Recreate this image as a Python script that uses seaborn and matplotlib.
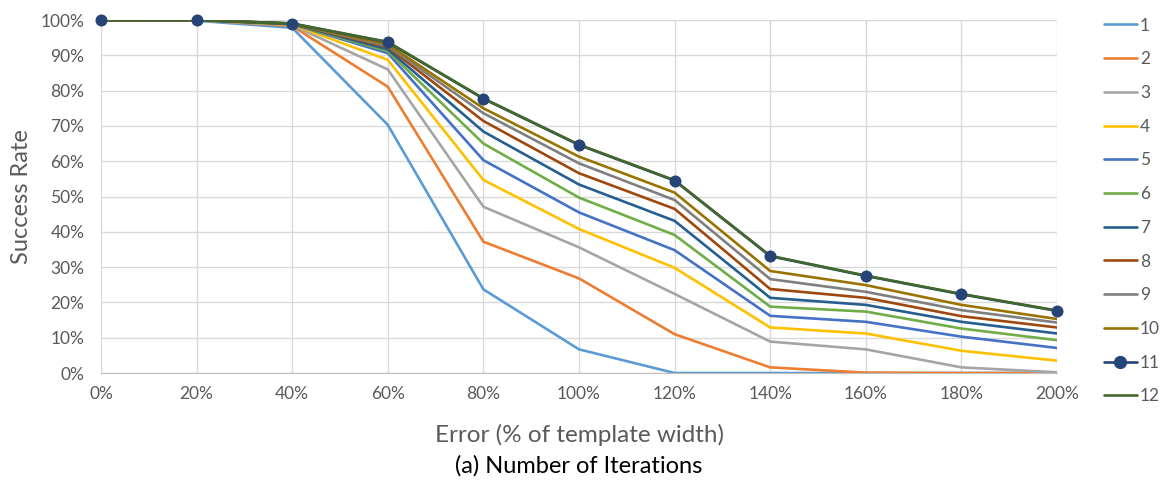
import pandas as pd
import seaborn as sns
import matplotlib.pyplot as plt
from matplotlib.lines import Line2D

# Data
errors = [0, 20, 40, 60, 80, 100, 120, 140, 160, 180, 200]
series_names = ['1', '2', '3', '4', '5', '6', '7', '8', '9', '10', '11', '12']

s1 = [100, 99.8, 97.8, 70.3, 23.7, 6.7, 0.0, 0.0, 0.0, 0.0, 0.0]
s2 = [100, 100, 98.3, 81.1, 37.2, 26.8, 11.0, 1.6, 0.1, 0.0, 0.0]
s3 = [100, 100, 98.5, 86.0, 47.1, 35.6, 22.4, 8.9, 6.7, 1.6, 0.2]
s4 = [100, 100, 98.7, 88.7, 54.7, 40.8, 29.8, 12.9, 11.2, 6.3, 3.5]
s5 = [100, 100, 98.8, 90.6, 60.3, 45.5, 34.8, 16.2, 14.5, 10.3, 7.1]
s6 = [100, 100, 98.8, 91.2, 65.0, 49.7, 39.1, 18.8, 17.4, 12.6, 9.3]
s7 = [100, 100, 98.9, 91.7, 68.4, 53.4, 43.1, 21.3, 19.3, 14.5, 11.2]
s8 = [100, 100, 98.9, 92.3, 71.4, 56.6, 46.5, 23.8, 21.3, 16.1, 12.9]
s9 = [100, 100, 99.0, 92.6, 73.6, 59.4, 49.0, 26.6, 23.0, 17.8, 14.3]
s10 = [100, 100, 99.0, 93.1, 75.0, 61.3, 51.1, 28.9, 24.9, 19.3, 15.3]
s11 = [100, 100, 99.0, 93.7, 77.7, 64.6, 54.5, 33.1, 27.5, 22.3, 17.6]
s12 = [100, 100, 99.0, 93.8, 77.8, 64.7, 54.6, 33.2, 27.6, 22.4, 17.7]
all_values = [s1, s2, s3, s4, s5, s6, s7, s8, s9, s10, s11, s12]

colors = ['#5B9BD5', '#ED7D31', '#A5A5A5', '#FFC000', '#4472C4', '#70AD47',
          '#255E91', '#9E480E', '#7F7F7F', '#997300', '#264478', '#43682B']

df = pd.DataFrame(
    [(name, e, v) for name, vals in zip(series_names, all_values) for e, v in zip(errors, vals)],
    columns=['Series', 'Error', 'Success'])

sns.set_style('whitegrid', {'grid.color': '#D9D9D9'})
plt.rcParams['font.family'] = ['Lato', 'DejaVu Sans']

fig = plt.figure(figsize=(11.63, 4.82), dpi=100)
ax = fig.add_axes([0.0868, 0.2261, 0.8221, 0.7324])

palette = dict(zip(series_names, colors))
sns.lineplot(data=df, x='Error', y='Success', hue='Series', palette=palette,
             hue_order=series_names, linewidth=1.9, legend=False, ax=ax)

# markers for series 11 on top
sns.scatterplot(data=df[df['Series'] == '11'], x='Error', y='Success', color='#264478',
                s=75, edgecolor='#264478', linewidth=0, zorder=10, clip_on=False, ax=ax)

ax.set_xlim(0, 200)
ax.set_ylim(0, 100)
ax.set_xticks(errors)
ax.set_xticklabels([f'{e}%' for e in errors])
ax.set_yticks(range(0, 101, 10))
ax.set_yticklabels([f'{v}%' for v in range(0, 101, 10)])
ax.tick_params(axis='both', colors='#595959', labelsize=12.5, length=0)
ax.tick_params(axis='x', pad=9)
ax.tick_params(axis='y', pad=12)
for side in ['top', 'right', 'left']:
    ax.spines[side].set_visible(False)
ax.spines['bottom'].set_color('#BFBFBF')
ax.grid(True, color='#D9D9D9', linewidth=1)

ax.set_xlabel('')
ax.set_ylabel('Success Rate', fontsize=17, color='#595959', labelpad=6)
fig.text(0.4979, 0.0975, 'Error (% of template width)', ha='center', va='center',
         fontsize=17.5, color='#595959')
fig.text(0.4979, 0.033, '(a) Number of Iterations', ha='center', va='center',
         fontsize=17, color='black')

handles = []
for name, c in zip(series_names, colors):
    if name == '11':
        handles.append(Line2D([], [], color=c, linewidth=1.9, marker='o', markersize=8.5))
    else:
        handles.append(Line2D([], [], color=c, linewidth=1.9))
leg = fig.legend(handles, series_names, loc='upper left', bbox_to_anchor=(0.943, 0.978),
                 frameon=False, fontsize=12.5, handlelength=1.9, handletextpad=0.2,
                 labelspacing=1.02, borderaxespad=0)
for t in leg.get_texts():
    t.set_color('#595959')

fig.savefig('out.png', dpi=100)
